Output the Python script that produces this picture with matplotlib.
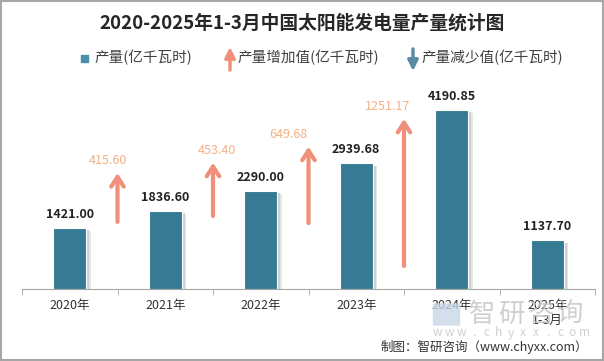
import matplotlib
matplotlib.use("Agg")
import matplotlib.pyplot as plt
from matplotlib.patches import Rectangle, FancyBboxPatch

plt.rcParams['font.family'] = ['Noto Sans CJK SC', 'DejaVu Sans']

# data
years = ['2020年', '2021年', '2022年', '2023年', '2024年', '2025年\n1-3月']
output = [1421.00, 1836.60, 2290.00, 2939.68, 4190.85, 1137.70]
increase = [415.60, 453.40, 649.68, 1251.17]
arrow_base = [570, 620, 560, 195]  # arrow start, secondary scale
label_dx = [-10, 4, -20, -16]      # arrow label shift, px

W, H = 604, 361
bar_color = '#367A93'
up_color = '#F0907A'
down_color = '#5B8BA5'
inc_text = '#F4B183'


def fx(x):
    return x / W


def fy(y):
    return 1 - y / H


fig = plt.figure(figsize=(W / 100, H / 100), dpi=100)
ax = fig.add_axes([fx(22), 72 / H, 573 / W, 213.5 / H])
ax.set_xlim(-0.5, 5.5)
ax.set_ylim(0, 5000)

xs = list(range(len(years)))
# soft shadow on the right side of each bar
ax.bar([x + 0.05 for x in xs], [v - 70 for v in output], width=0.345,
       color='#e6e6e6', zorder=1)
ax.bar([x + 0.03 for x in xs], [v - 50 for v in output], width=0.345,
       color='#cfcfcf', zorder=1)
ax.bar(xs, output, width=0.345, color=bar_color, edgecolor='white',
       linewidth=0.8, zorder=2)

for x, v in zip(xs, output):
    ax.annotate(f'{v:.2f}', (x, v), xytext=(0, 13.5 * 0.72),
                textcoords='offset points', ha='center', va='center',
                fontsize=9, fontweight='bold', color='#222222')

# arrows on a second scale
ax2 = ax.twinx()
ax2.set_ylim(0, 1814)
ax2.axis('off')
for i, (b, d) in enumerate(zip(arrow_base, increase)):
    x = i + 0.5
    ax2.annotate('', xy=(x, b + d), xytext=(x, b),
                 arrowprops=dict(arrowstyle='->,head_width=0.45,head_length=0.7',
                                 lw=3, color=up_color, shrinkA=0, shrinkB=0))
    ax2.annotate(f'{d:.2f}', (x, b + d), xytext=(label_dx[i] * 0.72, 12.5 * 0.72),
                 textcoords='offset points', ha='center', va='center',
                 fontsize=9, color=inc_text)

for s in ['left', 'right', 'top']:
    ax.spines[s].set_visible(False)
ax.spines['bottom'].set_color('#A6A6A6')
ax.set_yticks([])
ax.set_xticks(xs)
ax.set_xticklabels(years, fontsize=9, color='#333333', linespacing=1.25)
ax.tick_params(axis='x', which='major', length=0, pad=7)
ax.set_xticks([x - 0.5 for x in range(len(years) + 1)], minor=True)
ax.tick_params(axis='x', which='minor', length=4, color='#A6A6A6')

# title
fig.text(0.5, fy(23), '2020-2025年1-3月中国太阳能发电量产量统计图',
         ha='center', va='center', fontsize=13.5, fontweight='bold', color='#262626')

# legend
fig.patches.append(Rectangle((fx(81), fy(62)), 7 / W, 7 / H, color='#4A8FA8',
                             transform=fig.transFigure))
fig.text(fx(94), fy(58), '产量(亿千瓦时)', ha='left', va='center',
         fontsize=10.5, color='#404040')
ax.annotate('', xy=(fx(230), fy(47)), xytext=(fx(230), fy(70)),
            xycoords='figure fraction', textcoords='figure fraction',
            arrowprops=dict(arrowstyle='-|>,head_width=0.3,head_length=0.6',
                            lw=2.5, color=up_color, shrinkA=0, shrinkB=0))
fig.text(fx(237), fy(58), '产量增加值(亿千瓦时)', ha='left', va='center',
         fontsize=10.5, color='#404040')
ax.annotate('', xy=(fx(413), fy(71)), xytext=(fx(413), fy(49)),
            xycoords='figure fraction', textcoords='figure fraction',
            arrowprops=dict(arrowstyle='-|>,head_width=0.3,head_length=0.6',
                            lw=2.5, color=down_color, shrinkA=0, shrinkB=0))
fig.text(fx(421), fy(58), '产量减少值(亿千瓦时)', ha='left', va='center',
         fontsize=10.5, color='#404040')

# watermark
fig.patches.append(FancyBboxPatch((fx(434), fy(325)), 25 / W, 21 / H,
                                  boxstyle='round,pad=0.002', fc='#C9D7E6',
                                  ec='none', alpha=0.8, transform=fig.transFigure))
for i, ch in enumerate('智研咨询'):
    fig.text(fx(482 + i * 29.3), fy(314), ch, ha='center', va='center',
             fontsize=19, color='#C4C4C4', alpha=0.8)
for i, ch in enumerate('www.chyxx.com'):
    fig.text(fx(437 + i * 12.3), fy(333), ch, ha='center', va='center',
             fontsize=8.5, color='#C4C4C4', alpha=0.8)

fig.text(fx(588), fy(347), '制图：智研咨询（www.chyxx.com）', ha='right', va='center',
         fontsize=9, color='#333333')

# outer border
fig.patches.append(Rectangle((0.001, 0.002), 0.997, 0.995, fill=False,
                             ec='#A6A6A6', lw=1.5, transform=fig.transFigure))

fig.savefig('out.png', dpi=100)
